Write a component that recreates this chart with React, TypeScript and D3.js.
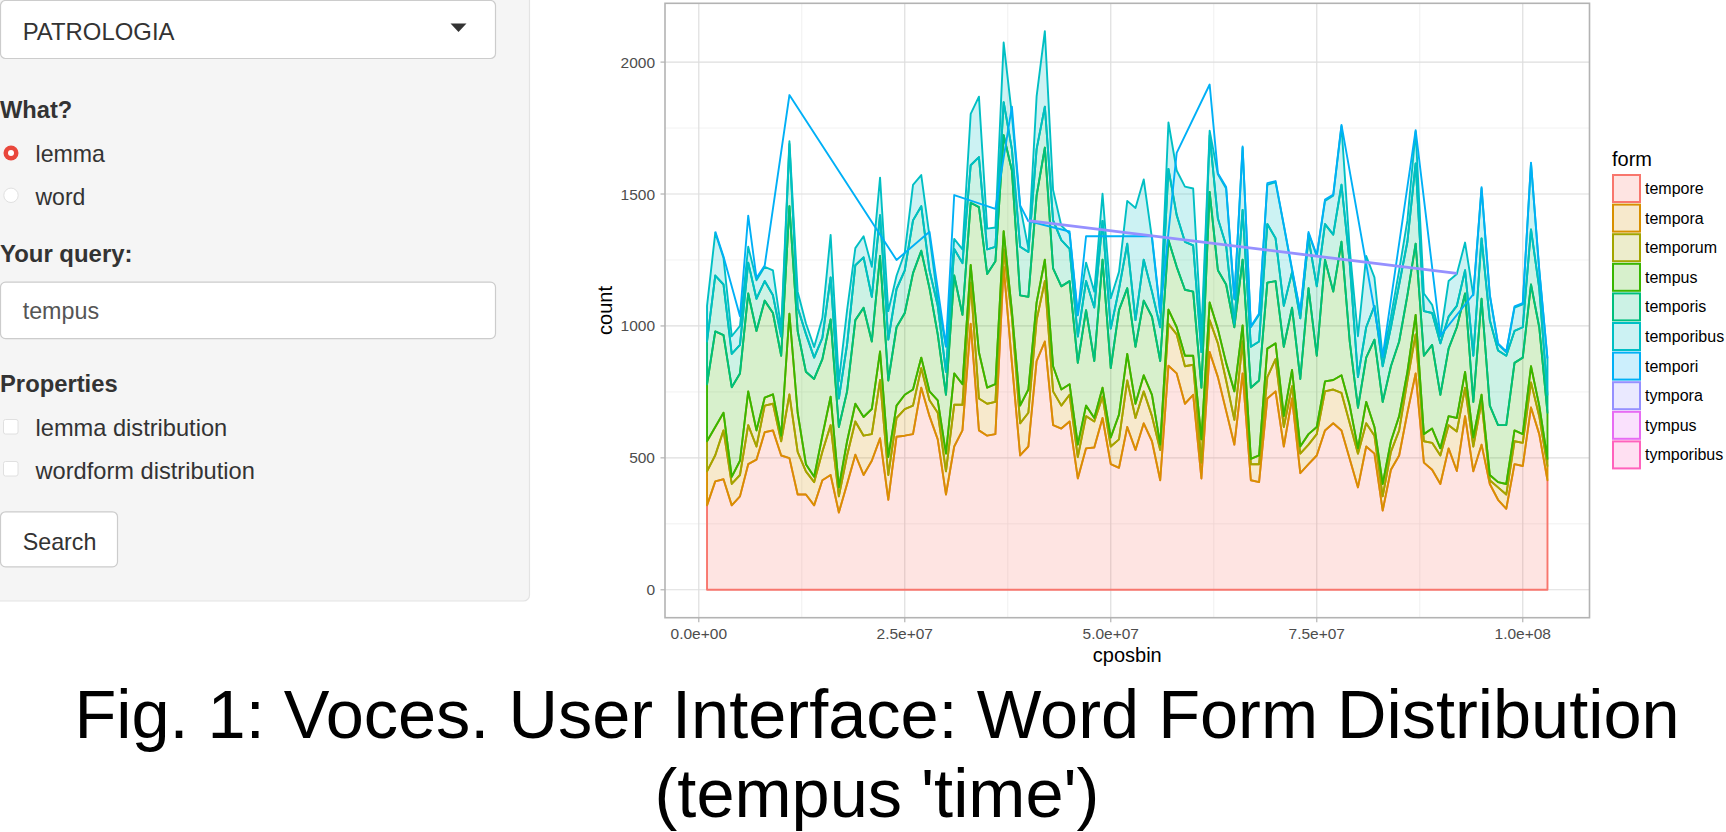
import React from "react";
import * as d3 from "d3";

// ---------- data ----------
const CPOSBIN_MILLIONS = [
  1, 2, 3, 4, 5, 6, 7, 8, 9, 10, 11, 12, 13, 14, 15, 16, 17, 18, 19, 20, 21, 22, 23, 24, 25,
  26, 27, 28, 29, 30, 31, 32, 33, 34, 35, 36, 37, 38, 39, 40, 41, 42, 43, 44, 45, 46, 47, 48, 49, 50, 51,
  52, 53, 54, 55, 56, 57, 58, 59, 60, 61, 62, 63, 64, 65, 66, 67, 68, 69, 70, 71, 72, 73, 74, 75, 76,
  77, 78, 79, 80, 81, 82, 83, 84, 85, 86, 87, 88, 89, 90, 91, 92, 93, 94, 95, 96, 97, 98, 99, 100, 101, 102, 103,
];

const FORMS = ["tempore", "tempora", "temporum", "tempus", "temporis", "temporibus", "tempori", "tympora", "tympus", "tymporibus"];
const COLORS = ["#F8766D", "#D89000", "#A3A500", "#39B600", "#00BF7D", "#00BFC4", "#00B0F6", "#9590FF", "#E76BF3", "#FF62BC"];

const TEMPORE = [
  320, 411, 419, 320, 354, 476, 493, 597, 604, 509, 499, 361, 361, 320, 415, 435, 293, 401, 512, 435, 489, 574, 341, 580, 584,
  590, 766, 658, 570, 361, 543, 604, 1008, 604, 584, 590, 1224, 860, 509, 543, 867, 941, 624, 611, 638, 422, 536, 539, 651, 476, 462,
  617, 530, 631, 563, 415, 849, 820, 705, 739, 422, 901, 806, 678, 550, 820, 415, 408, 725, 752, 543, 725, 442, 476, 509, 604,
  631, 604, 496, 388, 543, 516, 300, 455, 509, 671, 820, 482, 455, 401, 536, 450, 658, 449, 550, 401, 341, 307, 476, 469, 691, 590, 415,
];
const TEMPORA = [
  129, 99, 185, 81, 81, 148, 50, 101, 101, 54, 241, 162, 88, 88, 108, 189, 61, 108, 126, 149, 101, 221, 94, 71, 101,
  108, 74, 60, 101, 88, 158, 97, 156, 121, 121, 122, 66, 175, 122, 128, 155, 229, 128, 87, 101, 81, 122, 99, 81, 67, 108,
  176, 121, 121, 95, 115, 159, 148, 142, 114, 60, 121, 128, 115, 94, 121, 61, 68, 81, 122, 74, 47, 74, 74, 81, 148,
  128, 142, 135, 128, 88, 68, 54, 68, 95, 122, 148, 81, 102, 108, 88, 150, 108, 94, 162, 14, 47, 54, 87, 88, 95, 68, 54,
];
const TEMPORUM = [
  114, 107, 67, 27, 54, 128, 61, 30, 36, 21, 306, 148, 27, 20, 61, 108, 34, 54, 67, 71, 95, 108, 68, 47, 54,
  61, 40, 34, 47, 67, 119, 78, 67, 175, 61, 67, 69, 21, 67, 88, 67, 81, 95, 61, 40, 47, 40, 13, 34, 34, 94,
  101, 54, 61, 81, 20, 54, 27, 40, 34, 88, 67, 54, 67, 108, 61, 20, 33, 108, 60, 41, 61, 27, 40, 27, 38,
  36, 67, 67, 20, 81, 33, 47, 40, 54, 33, 74, 27, 54, 27, 34, 51, 60, 34, 27, 20, 20, 40, 41, 33, 61, 40, 27,
];
const TEMPUS = [
  216, 362, 294, 340, 331, 371, 377, 368, 308, 303, 408, 310, 350, 371, 290, 293, 229, 189, 317, 414, 256, 362, 290, 297, 310,
  441, 405, 391, 250, 223, 371, 263, 236, 550, 431, 466, 364, 533, 418, 351, 405, 425, 371, 391, 391, 310, 362, 216, 485, 263, 396,
  249, 216, 283, 296, 317, 264, 229, 250, 243, 196, 419, 223, 297, 243, 249, 270, 284, 250, 236, 263, 236, 256, 553, 270, 461,
  335, 506, 243, 154, 168, 331, 311, 284, 283, 290, 270, 297, 317, 203, 256, 344, 297, 135, 364, 263, 216, 223, 256, 290, 310, 297, 175,
];
const TEMPORIS = [
  162, 212, 192, 126, 108, 117, 122, 74, 67, 73, 236, 89, 144, 81, 81, 159, 108, 178, 208, 191, 169, 155, 155, 145, 162,
  200, 169, 68, 108, 87, 101, 196, 142, 190, 93, 55, 125, 81, 184, 170, 176, 155, 182, 175, 122, 100, 110, 203, 147, 150, 80,
  169, 101, 155, 95, 128, 269, 196, 182, 175, 135, 215, 196, 148, 13, 189, 155, 148, 222, 162, 155, 135, 230, 189, 263, 135,
  216, 216, 297, 116, 115, 128, 135, 148, 216, 203, 304, 169, 121, 195, 121, 81, 88, 175, 229, 324, 283, 263, 121, 115, 209, 148, 68,
];
const TEMPORIBUS = [
  135, 162, 101, 67, 72, 60, 70, 54, 95, 30, 10, 60, 40, 40, 75, 161, 65, 130, 65, 80, 114, 142, 108, 50, 67,
  135, 118, 129, 24, 95, 38, 52, 195, 229, 79, 73, 226, 130, 154, 14, 200, 286, 115, 55, 58, 80, 70, 60, 103, 115, 65,
  162, 425, 304, 202, 54, 176, 169, 209, 216, 67, 17, 168, 216, 92, 236, 74, 101, 149, 213, 304, 7, 21, 18, 115, 88,
  148, 222, 54, 155, 270, 108, 33, 40, 54, 81, 121, 67, 31, 26, 135, 121, 105, 229, 189, 94, 23, 13, 88, 87, 250, 68, 135,
];

// sparse forms (only present in some bins)
const TEMPORI_BINS = [
  2, 3, 5, 6, 7, 8, 11, 24, 28, 30, 31, 36, 38, 39, 40, 45, 46, 47, 55, 56, 58, 62,
  63, 64, 65, 66, 67, 68, 69, 70, 71, 72, 73, 74, 75, 76, 77, 78, 83, 87, 90, 94,
  95, 96, 97, 98, 99, 100, 101, 102, 103,
];
const TEMPORI_COUNTS = [
  5, 5, 37, 118, 9, 5, 175, 60, 17, 3, 166, 71, 31, 3, 103, 8, 3, 100, 8, 3, 67, 175,
  4, 6, 5, 4, 3, 5, 6, 4, 3, 5, 4, 6, 3, 5, 4, 5, 4, 5, 3, 4,
  5, 3, 4, 3, 5, 4, 3, 4, 3,
];
const TYMPORA_BINS = [40, 92];
const TYMPORA_COUNTS = [2, 2];

const X_TICKS = [0, 2.5e7, 5e7, 7.5e7, 1e8];
const X_TICK_LABELS = ["0.0e+00", "2.5e+07", "5.0e+07", "7.5e+07", "1.0e+08"];
const X_MINOR = [1.25e7, 3.75e7, 6.25e7, 8.75e7];
const Y_TICKS = [0, 500, 1000, 1500, 2000];
const Y_MINOR = [250, 750, 1250, 1750];

const FONT = "'Liberation Sans', Arial, Helvetica, sans-serif";

export default function App() {
  const W = 1726;
  const H = 832;
  const PANEL = { l: 665, r: 1589.5, t: 3.3, b: 617.7 };

  const rows = CPOSBIN_MILLIONS.map((m, i) => ({
    x: m * 1e6,
    tempore: TEMPORE[i],
    tempora: TEMPORA[i],
    temporum: TEMPORUM[i],
    tempus: TEMPUS[i],
    temporis: TEMPORIS[i],
    temporibus: TEMPORIBUS[i],
  }));
  const denseKeys = FORMS.slice(0, 6);
  const stacked = d3.stack<any>().keys(denseKeys)(rows as any);
  const denseTop = (i: number) => stacked[stacked.length - 1][i][1];
  const idx = (m: number) => CPOSBIN_MILLIONS.indexOf(m);
  const temporiAt = (m: number) => {
    const j = TEMPORI_BINS.indexOf(m);
    return j < 0 ? 0 : TEMPORI_COUNTS[j];
  };
  const temporiPts = TEMPORI_BINS.map((m, j) => {
    const base = denseTop(idx(m));
    return { x: m * 1e6, y0: base, y1: base + TEMPORI_COUNTS[j] };
  });
  const tymporaPts = TYMPORA_BINS.map((m, j) => {
    const base = denseTop(idx(m)) + temporiAt(m);
    return { x: m * 1e6, y0: base, y1: base + TYMPORA_COUNTS[j] };
  });

  const xmin = d3.min(rows, (r) => r.x) as number;
  const xmax = d3.max(rows, (r) => r.x) as number;
  const ymax = d3.max([
    ...stacked.flatMap((s) => s.map((d) => d[1])),
    ...temporiPts.map((p) => p.y1),
    ...tymporaPts.map((p) => p.y1),
  ]) as number;
  const xr = xmax - xmin;
  const x = d3.scaleLinear().domain([xmin - 0.05 * xr, xmax + 0.05 * xr]).range([PANEL.l, PANEL.r]);
  const y = d3.scaleLinear().domain([-0.05 * ymax, 1.05 * ymax]).range([PANEL.b, PANEL.t]);

  const area = d3
    .area<any>()
    .x((d) => x(d.data.x))
    .y0((d) => y(d[0]))
    .y1((d) => y(d[1]));
  const topLine = d3
    .line<{ x: number; y1: number }>()
    .x((d) => x(d.x))
    .y((d) => y(d.y1));

  const textCol = "#333333";
  const LW = 1.9;

  return (
    <div style={{ position: "absolute", left: 0, top: 0, width: W, height: H, background: "#fff" }}>
      <svg width={W} height={H} style={{ display: "block", fontFamily: FONT }}>
        <rect x={0} y={0} width={W} height={H} fill="#ffffff" />

        {/* ---------- sidebar (shiny UI) ---------- */}
        <rect x={-10} y={-10} width={539.5} height={611} rx={6} fill="#F5F5F5" stroke="#E3E3E3" strokeWidth={1.2} />
        <rect x={0.5} y={0.5} width={495} height={58} rx={5} fill="#ffffff" stroke="#CCCCCC" strokeWidth={1.2} />
        <text x={22.7} y={39.5} fontSize={24} fill={textCol} textLength={151.8} lengthAdjust="spacingAndGlyphs">
          PATROLOGIA
        </text>
        <polygon points="450.5,23.5 466.5,23.5 458.5,32" fill="#333333" />

        <text x={0} y={118.4} fontSize={24} fontWeight={700} fill={textCol} textLength={72.3} lengthAdjust="spacingAndGlyphs">
          What?
        </text>
        <circle cx={11} cy={153} r={7.5} fill="#E9473C" />
        <circle cx={11} cy={153} r={3} fill="#ffffff" />
        <text x={35.5} y={161.8} fontSize={24} fill={textCol} textLength={69.5} lengthAdjust="spacingAndGlyphs">
          lemma
        </text>
        <circle cx={11} cy={195.3} r={7.2} fill="#ffffff" stroke="#E0E0E0" strokeWidth={1} />
        <text x={35.5} y={205.2} fontSize={24} fill={textCol} textLength={49.9} lengthAdjust="spacingAndGlyphs">
          word
        </text>

        <text x={0} y={262.4} fontSize={24} fontWeight={700} fill={textCol} textLength={132.5} lengthAdjust="spacingAndGlyphs">
          Your query:
        </text>
        <rect x={0.5} y={282.2} width={495} height={56.4} rx={5} fill="#ffffff" stroke="#CCCCCC" strokeWidth={1.2} />
        <text x={22.7} y={318.5} fontSize={24} fill="#555555" textLength={76.4} lengthAdjust="spacingAndGlyphs">
          tempus
        </text>

        <text x={0} y={392} fontSize={24} fontWeight={700} fill={textCol} textLength={117.7} lengthAdjust="spacingAndGlyphs">
          Properties
        </text>
        <rect x={3.5} y={419.5} width={14.5} height={14.5} rx={2} fill="#ffffff" stroke="#E0E0E0" strokeWidth={1} />
        <text x={35.5} y={436} fontSize={24} fill={textCol} textLength={191.7} lengthAdjust="spacingAndGlyphs">
          lemma distribution
        </text>
        <rect x={3.5} y={461.5} width={14.5} height={14.5} rx={2} fill="#ffffff" stroke="#E0E0E0" strokeWidth={1} />
        <text x={35.5} y={478.7} fontSize={24} fill={textCol} textLength={219.3} lengthAdjust="spacingAndGlyphs">
          wordform distribution
        </text>

        <rect x={0.5} y={511.8} width={117} height={55} rx={5} fill="#ffffff" stroke="#CCCCCC" strokeWidth={1.2} />
        <text x={22.7} y={549.7} fontSize={24} fill={textCol} textLength={73.7} lengthAdjust="spacingAndGlyphs">
          Search
        </text>

        {/* ---------- plot panel ---------- */}
        <rect x={PANEL.l} y={PANEL.t} width={PANEL.r - PANEL.l} height={PANEL.b - PANEL.t} fill="#ffffff" />
        {X_MINOR.map((v) => (
          <line key={"xm" + v} x1={x(v)} x2={x(v)} y1={PANEL.t} y2={PANEL.b} stroke="#EDEDED" strokeWidth={0.8} />
        ))}
        {Y_MINOR.map((v) => (
          <line key={"ym" + v} x1={PANEL.l} x2={PANEL.r} y1={y(v)} y2={y(v)} stroke="#EDEDED" strokeWidth={0.8} />
        ))}
        {X_TICKS.map((v) => (
          <line key={"xg" + v} x1={x(v)} x2={x(v)} y1={PANEL.t} y2={PANEL.b} stroke="#DEDEDE" strokeWidth={1.2} />
        ))}
        {Y_TICKS.map((v) => (
          <line key={"yg" + v} x1={PANEL.l} x2={PANEL.r} y1={y(v)} y2={y(v)} stroke="#DEDEDE" strokeWidth={1.2} />
        ))}

        {/* stacked areas */}
        {stacked.map((s, i) => (
          <path
            key={s.key}
            d={area(s as any) || ""}
            fill={COLORS[i]}
            fillOpacity={0.2}
            stroke={COLORS[i]}
            strokeWidth={LW}
            strokeLinejoin="round"
          />
        ))}
        {/* sparse forms: tempori, tympora */}
        <path d={topLine(temporiPts) || ""} fill="none" stroke={COLORS[6]} strokeWidth={LW} strokeLinejoin="round" />
        <path d={topLine(tymporaPts) || ""} fill="none" stroke={COLORS[7]} strokeWidth={2.8} strokeLinejoin="round" />

        <rect
          x={PANEL.l}
          y={PANEL.t}
          width={PANEL.r - PANEL.l}
          height={PANEL.b - PANEL.t}
          fill="none"
          stroke="#B3B3B3"
          strokeWidth={1.6}
        />

        {/* axes */}
        {Y_TICKS.map((v) => (
          <g key={"yt" + v}>
            <line x1={PANEL.l - 4.5} x2={PANEL.l} y1={y(v)} y2={y(v)} stroke="#B3B3B3" strokeWidth={1.2} />
            <text x={655} y={y(v) + 5.5} fontSize={15.5} fill="#4D4D4D" textAnchor="end">
              {String(v)}
            </text>
          </g>
        ))}
        {X_TICKS.map((v, i) => (
          <g key={"xt" + v}>
            <line x1={x(v)} x2={x(v)} y1={PANEL.b} y2={PANEL.b + 4.5} stroke="#B3B3B3" strokeWidth={1.2} />
            <text x={x(v)} y={639.3} fontSize={15.5} fill="#4D4D4D" textAnchor="middle">
              {X_TICK_LABELS[i]}
            </text>
          </g>
        ))}
        <text x={(PANEL.l + PANEL.r) / 2} y={661.5} fontSize={20} fill="#000" textAnchor="middle">
          cposbin
        </text>
        <text
          transform={`translate(611.5, ${(PANEL.t + PANEL.b) / 2}) rotate(-90)`}
          fontSize={20}
          fill="#000"
          textAnchor="middle"
        >
          count
        </text>

        {/* legend */}
        <text x={1612} y={166} fontSize={20} fill="#000">
          form
        </text>
        {FORMS.map((f, i) => {
          const top = 174 + i * 29.6;
          return (
            <g key={"lg" + f}>
              <rect x={1613} y={top + 1} width={27} height={27} fill={COLORS[i]} fillOpacity={0.2} stroke={COLORS[i]} strokeWidth={2} />
              <text x={1645} y={top + 20} fontSize={16} fill="#000">
                {f}
              </text>
            </g>
          );
        })}

        {/* caption */}
        <text x={877} y={738} fontSize={68.5} fill="#000" textAnchor="middle">
          Fig. 1: Voces. User Interface: Word Form Distribution
        </text>
        <text x={877} y={817} fontSize={68.5} fill="#000" textAnchor="middle">
          (tempus 'time')
        </text>
      </svg>
    </div>
  );
}
